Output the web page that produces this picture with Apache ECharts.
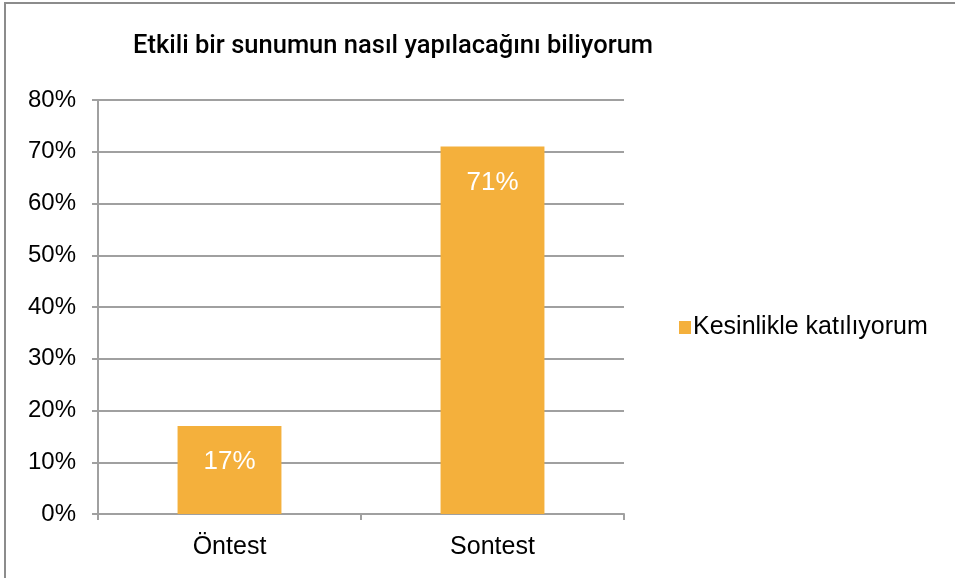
<!DOCTYPE html>
<html>
<head>
<meta charset="utf-8">
<script src="https://cdn.jsdelivr.net/npm/echarts@6/dist/echarts.min.js"></script>
<style>
    * { margin: 0; padding: 0; }
    body { background: #fff; }
</style>
</head>
<body>
<div id="chart" style="width:955px;height:578px;"></div>
<script>
    // chart data
    const chartTitle = 'Etkili bir sunumun nasıl yapılacağını biliyorum'
    const categories = ['Öntest', 'Sontest']
    const seriesName = 'Kesinlikle katılıyorum'
    const values = [17, 71]

    let myChart = echarts.init(document.getElementById('chart'))
    let option = {
        animation: false,
        title: {
            text: chartTitle,
            left: 128,
            top: 29,
            textStyle: {
                fontFamily: 'Roboto',
                fontSize: 25.5,
                fontWeight: 500,
                color: '#000'
            }
        },
        // outer frame
        graphic: [{
            type: 'rect',
            shape: { x: 5, y: 3, width: 1200, height: 1200 },
            style: { fill: 'none', stroke: '#8c8c8c', lineWidth: 2 }
        }],
        legend: {
            data: [seriesName],
            left: 674,
            top: 310,
            itemWidth: 12,
            itemHeight: 13,
            itemGap: 5,
            icon: 'rect',
            textStyle: { fontFamily: 'Liberation Sans', fontSize: 25, color: '#000', padding: [0, 0, 0, -3] }
        },
        grid: { left: 98, right: 331, top: 100, bottom: 64 },
        xAxis: {
            type: 'category',
            data: categories,
            axisLine: { lineStyle: { color: '#a0a0a0', width: 2 } },
            axisTick: { show: true, length: 6, lineStyle: { color: '#a0a0a0', width: 2 } },
            axisLabel: { fontFamily: 'Liberation Sans', fontSize: 25, color: '#000', margin: 21 }
        },
        yAxis: {
            type: 'value',
            min: 0,
            max: 80,
            interval: 10,
            axisLine: { show: true, lineStyle: { color: '#a0a0a0', width: 2 } },
            axisTick: { show: true, length: 6, lineStyle: { color: '#a0a0a0', width: 2 } },
            splitLine: { lineStyle: { color: '#a0a0a0', width: 2 } },
            axisLabel: {
                formatter: '{value}%',
                fontFamily: 'Liberation Sans',
                fontSize: 24,
                color: '#000',
                margin: 22
            }
        },
        series: [{
            name: seriesName,
            type: 'bar',
            data: values,
            barWidth: '39.5%',
            itemStyle: { color: '#f4b03c' },
            label: {
                show: true,
                position: 'insideTop',
                distance: 23,
                formatter: '{c}%',
                fontFamily: 'Liberation Sans',
                fontSize: 26,
                color: '#fff'
            }
        }]
    }
    myChart.setOption(option)
</script>
</body>
</html>
